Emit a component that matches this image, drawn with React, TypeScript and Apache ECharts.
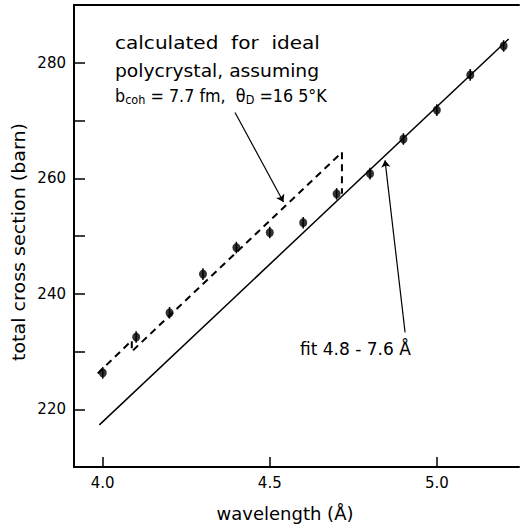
import React, { useEffect, useRef } from "react";
import * as echarts from "echarts";

const wavelengths = [4.0, 4.1, 4.2, 4.3, 4.4, 4.5, 4.6, 4.7, 4.8, 4.9, 5.0, 5.1, 5.2];
const crossSections = [226.3, 232.5, 236.7, 243.4, 248.0, 250.6, 252.3, 257.3, 260.8, 266.8, 271.8, 277.9, 282.9];
const errors = [1.0, 1.0, 1.0, 1.0, 1.0, 1.0, 1.0, 1.0, 1.0, 1.0, 1.0, 1.0, 1.0];
const fitLine: [number, number][] = [[3.99, 217.3], [5.215, 284.1]];
const calculatedLine: [number, number][] = [
  [3.985, 226.2], [4.087, 231.9], [4.087, 230.0], [4.716, 264.5], [4.716, 257.3],
];
const xTicks = [4.0, 4.5, 5.0];
const yLabels = [220, 240, 260, 280];
const calcArrow: [number, number][] = [[4.396, 271.4], [4.541, 255.9]];
const fitArrow: [number, number][] = [[4.905, 233.3], [4.845, 263.1]];

const FONT = "DejaVu Sans";

export default function App() {
  const ref = useRef<HTMLDivElement>(null);
  useEffect(() => {
    if (!ref.current) return;
    const chart = echarts.init(ref.current, undefined, { renderer: "svg" });
    const points = wavelengths.map((w, i) => [w, crossSections[i]]);
    const bars = wavelengths.map((w, i) => [w, crossSections[i], errors[i]]);
    chart.setOption({
      animation: false,
      backgroundColor: "#fff",
      grid: { left: 74, right: 6, top: 5, bottom: 60, containLabel: false },
      xAxis: [
        {
          type: "value",
          min: 3.914,
          max: 5.246,
          axisLine: { show: true, onZero: false, lineStyle: { color: "#000", width: 2 } },
          axisTick: { show: true, inside: true, length: 10, customValues: xTicks, lineStyle: { color: "#000", width: 1.5 } },
          axisLabel: {
            customValues: xTicks,
            formatter: (v: number) => v.toFixed(1),
            color: "#000",
            fontFamily: FONT,
            fontSize: 15,
            margin: 8,
          },
          splitLine: { show: false },
        },
        {
          type: "value",
          position: "top",
          min: 3.914,
          max: 5.246,
          axisLine: { show: true, onZero: false, lineStyle: { color: "#000", width: 2 } },
          axisTick: { show: false },
          axisLabel: { show: false },
          splitLine: { show: false },
        },
      ],
      yAxis: {
        type: "value",
        min: 210,
        max: 290,
        interval: 10,
        axisLine: { show: true, onZero: false, lineStyle: { color: "#000", width: 2 } },
        axisTick: { show: true, inside: true, length: 11, lineStyle: { color: "#000", width: 1.5 } },
        axisLabel: {
          formatter: (v: number) => (yLabels.includes(v) ? String(v) : ""),
          color: "#000",
          fontFamily: FONT,
          fontSize: 15,
          margin: 8,
        },
        splitLine: { show: false },
      },
      graphic: [
        { type: "text", x: 115, y: 43, scaleX: 1.18, style: { text: "calculated  for  ideal", font: `17px '${FONT}'`, fill: "#000", verticalAlign: "middle" } },
        { type: "text", x: 115, y: 71, scaleX: 1.1, style: { text: "polycrystal, assuming", font: `17px '${FONT}'`, fill: "#000", verticalAlign: "middle" } },
        {
          type: "text",
          x: 115,
          y: 96,
          scaleX: 0.94,
          style: {
            text: "b{sub|coh} = 7.7 fm,  θ{sub|D} =16 5°K",
            font: `17px '${FONT}'`,
            fill: "#000",
            verticalAlign: "middle",
            rich: { sub: { fontSize: 12, fontFamily: FONT, padding: [8, 0, 0, 0], fill: "#000" } },
          },
        },
        { type: "text", x: 300, y: 349, style: { text: "fit 4.8 - 7.6 Å", font: `17px '${FONT}'`, fill: "#000", verticalAlign: "middle" } },
        {
          type: "text",
          x: 19,
          y: 242,
          rotation: Math.PI / 2,
          scaleX: 1.06,
          style: { text: "total cross section (barn)", font: `18px '${FONT}'`, fill: "#000", align: "center", verticalAlign: "middle" },
        },
        {
          type: "text",
          x: 285,
          y: 513,
          style: { text: "wavelength (Å)", font: `18px '${FONT}'`, fill: "#000", align: "center", verticalAlign: "middle" },
        },
      ],
      series: [
        {
          type: "line",
          data: fitLine,
          showSymbol: false,
          lineStyle: { color: "#000", width: 1.5 },
          silent: true,
        },
        {
          type: "line",
          data: calculatedLine,
          showSymbol: false,
          lineStyle: { color: "#000", width: 2, type: [7, 5] },
          silent: true,
        },
        {
          type: "custom",
          data: bars,
          renderItem: (params: any, api: any) => {
            const x = api.value(0);
            const y = api.value(1);
            const e = api.value(2);
            const p1 = api.coord([x, y - e]);
            const p2 = api.coord([x, y + e]);
            return {
              type: "line",
              shape: { x1: p1[0], y1: p1[1], x2: p2[0], y2: p2[1] },
              style: { stroke: "#000", lineWidth: 1.5 },
            };
          },
          silent: true,
        },
        {
          type: "scatter",
          data: points,
          symbol: "circle",
          symbolSize: [8, 9],
          itemStyle: { color: "#000" },
        },
        {
          type: "lines",
          coordinateSystem: "cartesian2d",
          data: [{ coords: calcArrow }, { coords: fitArrow }],
          symbol: ["none", "arrow"],
          symbolSize: 7,
          lineStyle: { color: "#000", width: 1.2, opacity: 1 },
          silent: true,
        },
      ],
    });
    return () => chart.dispose();
  }, []);
  return <div ref={ref} style={{ width: 525, height: 527, position: "absolute", left: 0, top: 0 }} />;
}
